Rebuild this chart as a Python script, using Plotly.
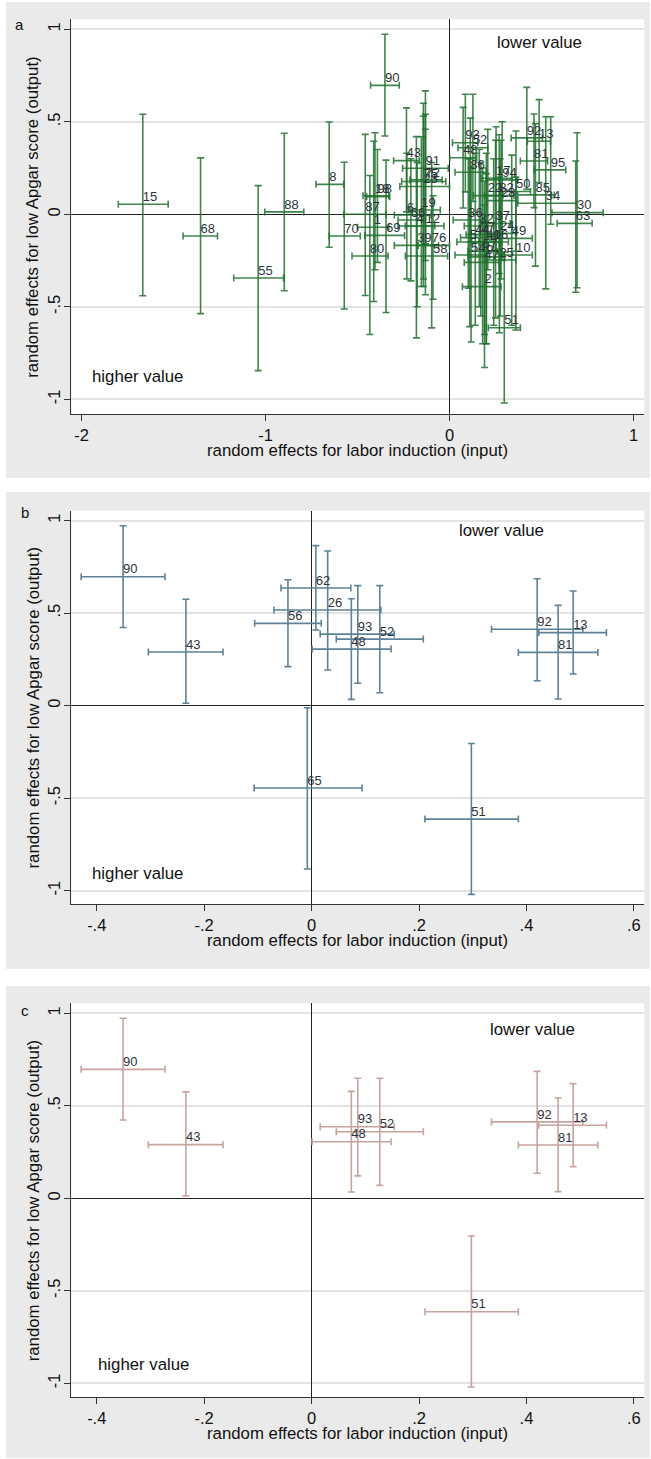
import plotly.graph_objects as go

# ---------------- data ----------------
# Panel a: all hospitals
a_labels = ["15","68","55","88","8","90","70","87","1","80","18","98","69","43","91","72","75","23",
            "6","66","19","4","12","39","76","58","93","52","48","86","92","13","81","95","85","34",
            "30","63","50","17","94","22","82","28","36","32","24","49","44","27","40","16","54","57",
            "9","47","25","10","2","51","5","37"]
a_x    = [-1.667,-1.353,-1.040,-0.898,-0.654,-0.351,-0.572,-0.458,-0.412,-0.433,-0.405,-0.392,-0.345,-0.234,-0.131,-0.131,-0.142,-0.142,
          -0.232,-0.210,-0.153,-0.180,-0.131,-0.176,-0.097,-0.090,0.086,0.127,0.074,0.113,0.420,0.487,0.459,0.550,0.467,0.523,
          0.693,0.686,0.361,0.253,0.286,0.208,0.270,0.280,0.102,0.162,0.275,0.338,0.140,0.170,0.200,0.240,0.117,0.180,
          0.200,0.190,0.271,0.361,0.190,0.2975,0.110,0.250]
a_x_lo = [-1.800,-1.448,-1.173,-1.004,-0.726,-0.429,-0.654,-0.575,-0.500,-0.530,-0.470,-0.450,-0.460,-0.304,-0.255,-0.215,-0.260,-0.270,
          -0.300,-0.280,-0.220,-0.280,-0.240,-0.300,-0.170,-0.240,0.016,0.046,0.001,0.030,0.335,0.423,0.385,0.460,0.370,0.370,
          0.557,0.585,0.280,0.170,0.200,0.130,0.190,0.200,0.020,0.080,0.190,0.230,0.060,0.090,0.120,0.160,0.030,0.100,
          0.100,0.080,0.190,0.270,0.070,0.211,0.040,0.170]
a_x_hi = [-1.529,-1.261,-0.902,-0.792,-0.575,-0.273,-0.485,-0.345,-0.330,-0.334,-0.330,-0.325,-0.244,-0.165,-0.007,-0.040,-0.020,0.000,
          -0.100,-0.140,-0.050,-0.080,-0.030,-0.060,0.000,-0.010,0.154,0.208,0.148,0.200,0.505,0.549,0.533,0.632,0.570,0.690,
          0.835,0.775,0.440,0.340,0.370,0.290,0.350,0.370,0.180,0.240,0.360,0.450,0.220,0.260,0.280,0.320,0.200,0.260,
          0.300,0.270,0.360,0.450,0.280,0.385,0.190,0.330]
a_y    = [0.054,-0.117,-0.344,0.013,0.162,0.697,-0.117,0.000,-0.070,-0.225,0.100,0.095,-0.114,0.290,0.249,0.186,0.177,0.150,
          -0.004,-0.031,0.023,-0.063,-0.063,-0.168,-0.168,-0.225,0.387,0.360,0.306,0.227,0.413,0.395,0.288,0.240,0.105,0.060,
          0.009,-0.049,0.123,0.195,0.186,0.101,0.101,0.074,-0.031,-0.063,-0.103,-0.130,-0.126,-0.110,-0.150,-0.150,-0.220,-0.200,
          -0.230,-0.260,-0.247,-0.220,-0.391,-0.613,-0.150,-0.050]
a_y_lo = [-0.440,-0.537,-0.845,-0.413,-0.178,0.423,-0.512,-0.439,-0.471,-0.650,-0.300,-0.260,-0.531,0.013,-0.160,-0.250,-0.350,-0.390,
          -0.349,-0.360,-0.390,-0.668,-0.435,-0.500,-0.614,-0.459,0.121,0.070,0.034,-0.150,0.135,0.171,0.036,-0.054,-0.280,-0.403,
          -0.397,-0.421,-0.200,-0.200,-0.250,-0.300,-0.320,-0.350,-0.400,-0.500,-0.550,-0.600,-0.600,-0.550,-0.700,-0.600,-0.690,-0.700,
          -0.700,-0.650,-0.640,-0.625,-0.828,-1.020,-0.607,-0.560]
a_y_hi = [0.541,0.305,0.155,0.438,0.499,0.973,0.281,0.432,0.395,0.210,0.441,0.350,0.293,0.575,0.667,0.540,0.600,0.530,
          0.330,0.300,0.419,0.420,0.460,0.280,0.280,0.100,0.649,0.649,0.578,0.520,0.686,0.620,0.542,0.527,0.490,0.527,
          0.441,0.288,0.450,0.473,0.500,0.459,0.430,0.400,0.300,0.350,0.300,0.320,0.330,0.280,0.330,0.300,0.250,0.250,
          0.220,0.180,0.200,0.200,0.050,-0.204,0.300,0.400]

# Panel b: hospitals whose output CI excludes zero
b_labels = ["90","43","62","26","56","93","52","48","92","13","81","65","51"]
b_x    = [-0.351,-0.234,0.008,0.030,-0.044,0.086,0.127,0.074,0.420,0.487,0.459,-0.008,0.2975]
b_x_lo = [-0.429,-0.304,-0.057,-0.070,-0.106,0.016,0.046,0.001,0.335,0.423,0.385,-0.107,0.211]
b_x_hi = [-0.273,-0.165,0.073,0.129,0.018,0.154,0.208,0.148,0.505,0.549,0.533,0.094,0.385]
b_y    = [0.697,0.290,0.636,0.517,0.445,0.387,0.360,0.306,0.413,0.395,0.288,-0.445,-0.613]
b_y_lo = [0.423,0.013,0.409,0.193,0.211,0.121,0.070,0.034,0.135,0.171,0.036,-0.883,-1.020]
b_y_hi = [0.973,0.575,0.865,0.836,0.681,0.649,0.649,0.578,0.686,0.620,0.542,-0.011,-0.204]

# Panel c: hospitals whose input and output CIs both exclude zero
c_labels = ["90","43","93","52","48","92","13","81","51"]

x_ticks_a = [-2, -1, 0, 1]
x_ticktext_a = ["-2", "-1", "0", "1"]
x_ticks_bc = [-0.4, -0.2, 0, 0.2, 0.4, 0.6]
x_ticktext_bc = ["-.4", "-.2", "0", ".2", ".4", ".6"]
y_ticks = [-1, -0.5, 0, 0.5, 1]
y_ticktext = ["-1", "-.5", "0", ".5", "1"]

panel_letters = ["a", "b", "c"]
x_title = "random effects for labor induction (input)"
y_title = "random effects for low Apgar score (output)"

# ---------------- build ----------------
idx = [b_labels.index(l) for l in c_labels]
c_x = [b_x[i] for i in idx]; c_x_lo = [b_x_lo[i] for i in idx]; c_x_hi = [b_x_hi[i] for i in idx]
c_y = [b_y[i] for i in idx]; c_y_lo = [b_y_lo[i] for i in idx]; c_y_hi = [b_y_hi[i] for i in idx]

W, H = 651, 1459
FONT = "Liberation Sans, Arial, sans-serif"

def px2paper_x(p):
    return p / W

def px2paper_y(p):
    return 1 - p / H

# pixel geometry of panels (left, top, right, bottom) for gray region and plot area
panels = [
    dict(gray=(6, 2, 650, 478), plot=(71.4, 19.3, 644.2, 414.3),
         xr=[-2.055, 1.058], yr=[-1.081, 1.054]),
    dict(gray=(6, 492, 650, 969), plot=(71.4, 510.7, 644.2, 904.3),
         xr=[-0.4472, 0.6193], yr=[-1.0735, 1.054]),
    dict(gray=(6, 986, 650, 1458), plot=(71.4, 1003.3, 644.2, 1397.3),
         xr=[-0.4472, 0.6193], yr=[-1.0757, 1.054]),
]

colors = ["rgba(30,112,45,0.85)", "#5d8299", "#c9a39d"]
datasets = [
    (a_labels, a_x, a_x_lo, a_x_hi, a_y, a_y_lo, a_y_hi),
    (b_labels, b_x, b_x_lo, b_x_hi, b_y, b_y_lo, b_y_hi),
    (c_labels, c_x, c_x_lo, c_x_hi, c_y, c_y_lo, c_y_hi),
]

fig = go.Figure()
shapes = []
annotations = []
TXT = "#111111"
for k, (p, d, col) in enumerate(zip(panels, datasets, colors)):
    labels, x, xlo, xhi, y, ylo, yhi = d
    xa = "x" if k == 0 else f"x{k+1}"
    ya = "y" if k == 0 else f"y{k+1}"
    fig.add_trace(go.Scatter(
        x=x, y=y, text=labels, mode="text",
        textposition="top right",
        textfont=dict(family=FONT, size=13, color="#2e333a"),
        error_x=dict(type="data", symmetric=False,
                     array=[h - v for h, v in zip(xhi, x)],
                     arrayminus=[v - l for v, l in zip(x, xlo)],
                     color=col, thickness=1.6, width=3.5),
        error_y=dict(type="data", symmetric=False,
                     array=[h - v for h, v in zip(yhi, y)],
                     arrayminus=[v - l for v, l in zip(y, ylo)],
                     color=col, thickness=1.6, width=3.5),
        xaxis=xa, yaxis=ya, showlegend=False, hoverinfo="skip"))

    gl, gt, gr, gb = p["gray"]
    shapes.append(dict(type="rect", xref="paper", yref="paper", layer="below",
                       x0=px2paper_x(gl), x1=px2paper_x(gr), y0=px2paper_y(gb), y1=px2paper_y(gt),
                       fillcolor="#eaeaea", line=dict(width=0)))
    pl, pt, pr, pb = p["plot"]
    shapes.append(dict(type="rect", xref="paper", yref="paper", layer="below",
                       x0=px2paper_x(pl), x1=px2paper_x(pr), y0=px2paper_y(pb), y1=px2paper_y(pt),
                       fillcolor="white", line=dict(width=0)))

    is_a = (k == 0)
    axis_common = dict(showline=True, linecolor="#333333", linewidth=1.3, mirror=False,
                       ticks="outside", ticklen=6, tickwidth=1.2, tickcolor="#333333",
                       tickfont=dict(family=FONT, size=16.5, color=TXT),
                       zeroline=True, zerolinecolor="#222222", zerolinewidth=1.3)
    fig.layout[("xaxis" if k == 0 else f"xaxis{k+1}")] = dict(
        axis_common, domain=[px2paper_x(pl), px2paper_x(pr)], anchor=ya,
        range=p["xr"], tickmode="array",
        tickvals=x_ticks_a if is_a else x_ticks_bc,
        ticktext=x_ticktext_a if is_a else x_ticktext_bc,
        showgrid=False)
    fig.layout[("yaxis" if k == 0 else f"yaxis{k+1}")] = dict(
        axis_common, domain=[px2paper_y(pb), px2paper_y(pt)], anchor=xa,
        range=p["yr"], tickmode="array", tickvals=y_ticks, ticktext=y_ticktext,
        tickangle=-90, ticklabelstandoff=-2, showgrid=True, gridcolor="#e3e3e3", gridwidth=2)

    # axis titles
    annotations.append(dict(x=0.5, y=px2paper_y(pb + 36), xref=f"{xa} domain", yref="paper",
                            text=x_title, showarrow=False, xanchor="center", yanchor="middle",
                            font=dict(family=FONT, size=16.8, color=TXT)))
    annotations.append(dict(x=px2paper_x(33), y=0.5, xref="paper", yref=f"{ya} domain",
                            text=y_title, showarrow=False, xanchor="center", yanchor="middle",
                            textangle=-90, font=dict(family=FONT, size=16.8, color=TXT)))

    # quadrant notes
    note_pos = [((0.491, 0.931), (-1.698, -0.879)),
                ((0.3536, 0.946), (-0.325, -0.906)),
                ((0.411, 0.915), (-0.313, -0.901))][k]
    for (tx, ty), txt in zip(note_pos, ["lower value", "higher value"]):
        annotations.append(dict(x=tx, y=ty, xref=xa, yref=ya, text=txt, showarrow=False,
                                font=dict(family=FONT, size=16.8, color=TXT),
                                xanchor="center", yanchor="middle"))

letter_pos = [(19.5, 24), (25.5, 513), (25.3, 1010)]
for (lx, ly), letter in zip(letter_pos, panel_letters):
    annotations.append(dict(x=px2paper_x(lx), y=px2paper_y(ly), xref="paper", yref="paper",
                            text=letter, showarrow=False, xanchor="center", yanchor="middle",
                            font=dict(family=FONT, size=15, color=TXT)))

fig.update_layout(width=W, height=H, margin=dict(l=0, r=0, t=0, b=0),
                  paper_bgcolor="white", plot_bgcolor="rgba(0,0,0,0)",
                  shapes=shapes, annotations=annotations, autosize=False)

fig.write_html("out.html", config={"displayModeBar": False},
               post_script="document.body.style.margin='0px';")
